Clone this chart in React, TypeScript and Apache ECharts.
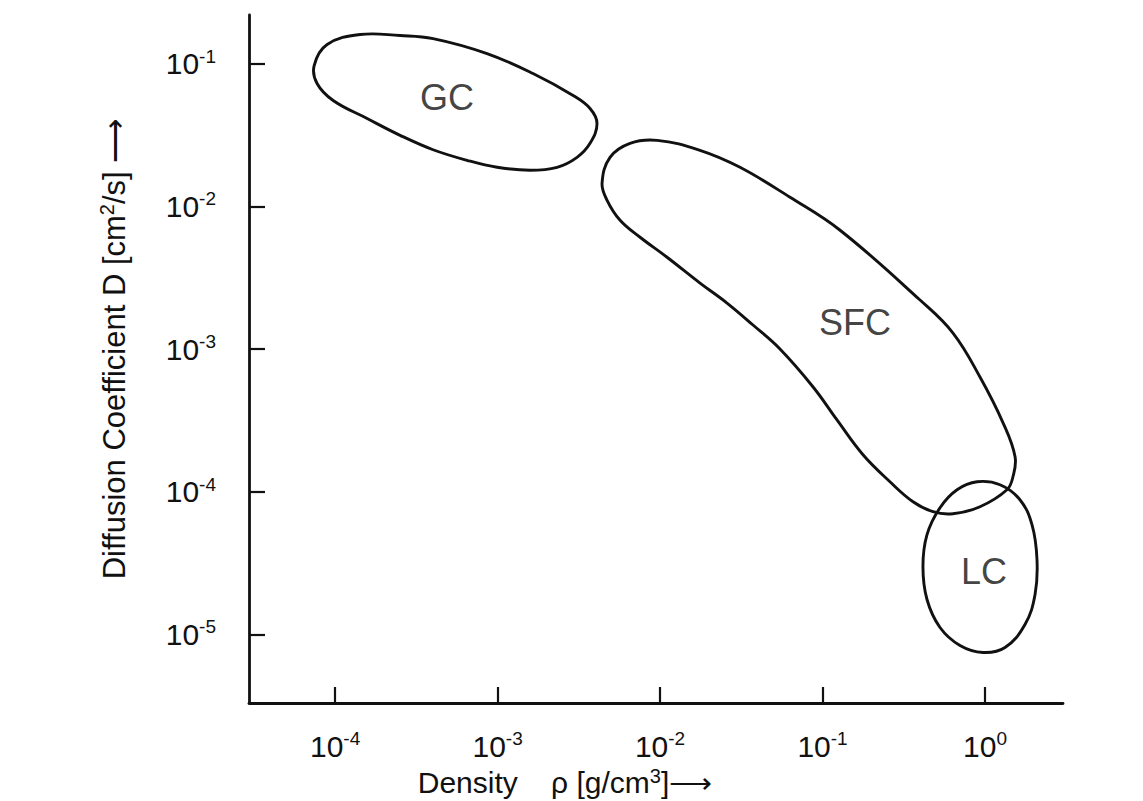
import React, { useEffect, useRef } from "react";
import * as echarts from "echarts";

// Axes are in decades: value = log10(quantity)
const xTickExponents = [-4, -3, -2, -1, 0];
const yTickExponents = [-5, -4, -3, -2, -1];
const xRange = [-4.53, 0.48];
const yRange = [-5.48, -0.66];

// Region outlines, [log10 density, log10 D]
const gcOutline: [number, number][] = [
  [-4.129, -1.014], [-4.049, -0.867], [-3.846, -0.797], [-3.6, -0.804],
  [-3.397, -0.825], [-3.065, -0.93], [-2.782, -1.07], [-2.535, -1.224],
  [-2.431, -1.315], [-2.388, -1.42], [-2.431, -1.559], [-2.511, -1.657],
  [-2.634, -1.727], [-2.8, -1.748], [-3.003, -1.727], [-3.188, -1.678],
  [-3.397, -1.604], [-3.6, -1.503], [-3.803, -1.385], [-4.012, -1.259],
  [-4.111, -1.14],
];
const sfcOutline: [number, number][] = [
  [-2.357, -1.839], [-2.308, -1.657], [-2.185, -1.559], [-2.018, -1.538],
  [-1.754, -1.608], [-1.508, -1.727], [-1.2, -1.937], [-0.892, -2.168],
  [-0.4, -2.657], [-0.197, -2.888], [-0.031, -3.196], [0.111, -3.517],
  [0.185, -3.755], [0.172, -3.895], [0.135, -3.986], [-0.031, -4.105],
  [-0.197, -4.154], [-0.32, -4.14], [-0.443, -4.07], [-0.585, -3.93],
  [-0.751, -3.741], [-0.911, -3.497], [-1.058, -3.266], [-1.262, -3.0],
  [-1.428, -2.832], [-1.588, -2.678], [-1.754, -2.538],
  [-1.957, -2.357], [-2.123, -2.217], [-2.246, -2.098], [-2.326, -1.958],
];
const lcOutline: [number, number][] = [
  [-0.049, -3.93], [0.092, -3.951], [0.215, -4.056], [0.289, -4.231],
  [0.32, -4.476], [0.308, -4.72], [0.246, -4.93], [0.123, -5.091],
  [-0.012, -5.126], [-0.154, -5.077], [-0.277, -4.951], [-0.357, -4.755],
  [-0.382, -4.524], [-0.357, -4.301], [-0.277, -4.112], [-0.172, -3.986],
];
const regionNames = ["GC", "SFC", "LC"];
const regionLabelX = [-3.311, -0.8, -0.006];
const regionLabelY = [-1.238, -2.811, -4.559];

const FONT = "'Liberation Sans', Arial, Helvetica, sans-serif";
const INK = "#111111";

function outlineSeries(name: string, pts: [number, number][]) {
  return {
    type: "custom",
    name,
    coordinateSystem: "cartesian2d",
    silent: true,
    data: pts,
    encode: { x: 0, y: 1 },
    renderItem: (params: any, api: any) => {
      if (params.dataIndex !== 0) return null;
      const points = pts.map((p) => api.coord(p));
      return {
        type: "polygon",
        shape: { points, smooth: 0.4 },
        style: { fill: "none", stroke: INK, lineWidth: 2.9 },
      };
    },
  };
}

const powLabel = (v: number) => `{b|10}{s|${v}}`;
const tickRich = {
  b: { fontSize: 30, fontFamily: FONT, color: INK, lineHeight: 34 },
  s: { fontSize: 19, fontFamily: FONT, color: INK, verticalAlign: "top", lineHeight: 20 },
};
const supRich = { sup: { fontSize: 20, fontFamily: FONT, color: INK, verticalAlign: "top", lineHeight: 22 } };

export default function App() {
  const ref = useRef<HTMLDivElement>(null);
  useEffect(() => {
    if (!ref.current) return;
    const chart = echarts.init(ref.current, undefined, { renderer: "svg" });
    chart.setOption({
      animation: false,
      backgroundColor: "#ffffff",
      grid: { left: 249, right: 80, top: 15, bottom: 98, containLabel: false, outerBoundsMode: "none" },
      xAxis: {
        type: "value",
        min: xRange[0],
        max: xRange[1],
        name: "Density    ρ [g/cm{sup|3}]⟶",
        nameLocation: "middle",
        nameGap: 63,
        nameTextStyle: {
          fontSize: 30,
          fontFamily: FONT,
          color: INK,
          padding: [0, 182, 0, 0],
          lineHeight: 32,
          rich: supRich,
        },
        axisLine: { show: true, onZero: false, lineStyle: { color: INK, width: 2.8 } },
        axisTick: { show: true, inside: true, length: 16, customValues: xTickExponents, lineStyle: { color: INK, width: 2.2 } },
        axisLabel: { customValues: xTickExponents, margin: 26, formatter: powLabel, rich: tickRich },
        splitLine: { show: false },
      },
      yAxis: {
        type: "value",
        min: yRange[0],
        max: yRange[1],
        name: "Diffusion Coefficient D [cm{sup|2}/s] ⟶",
        nameLocation: "middle",
        nameGap: 118,
        nameTextStyle: {
          fontSize: 31,
          fontFamily: FONT,
          color: INK,
          padding: [0, 0, 0, 20],
          lineHeight: 34,
          rich: supRich,
        },
        axisLine: { show: true, onZero: false, lineStyle: { color: INK, width: 2.8 } },
        axisTick: { show: true, inside: true, length: 16, customValues: yTickExponents, lineStyle: { color: INK, width: 2.2 } },
        axisLabel: { customValues: yTickExponents, margin: 33, formatter: powLabel, rich: tickRich },
        splitLine: { show: false },
      },
      series: [
        outlineSeries("GC", gcOutline),
        outlineSeries("SFC", sfcOutline),
        outlineSeries("LC", lcOutline),
        {
          type: "scatter",
          silent: true,
          symbolSize: 1,
          itemStyle: { color: "transparent" },
          data: regionNames.map((n, i) => [regionLabelX[i], regionLabelY[i], n]),
          label: {
            show: true,
            position: "inside",
            formatter: (p: any) => p.value[2],
            fontSize: 36,
            fontFamily: FONT,
            color: INK,
          },
        },
      ],
    });
    return () => chart.dispose();
  }, []);
  return (
    <div
      ref={ref}
      style={{ position: "fixed", left: 0, top: 0, width: 1143, height: 801, background: "#fff" }}
    />
  );
}
